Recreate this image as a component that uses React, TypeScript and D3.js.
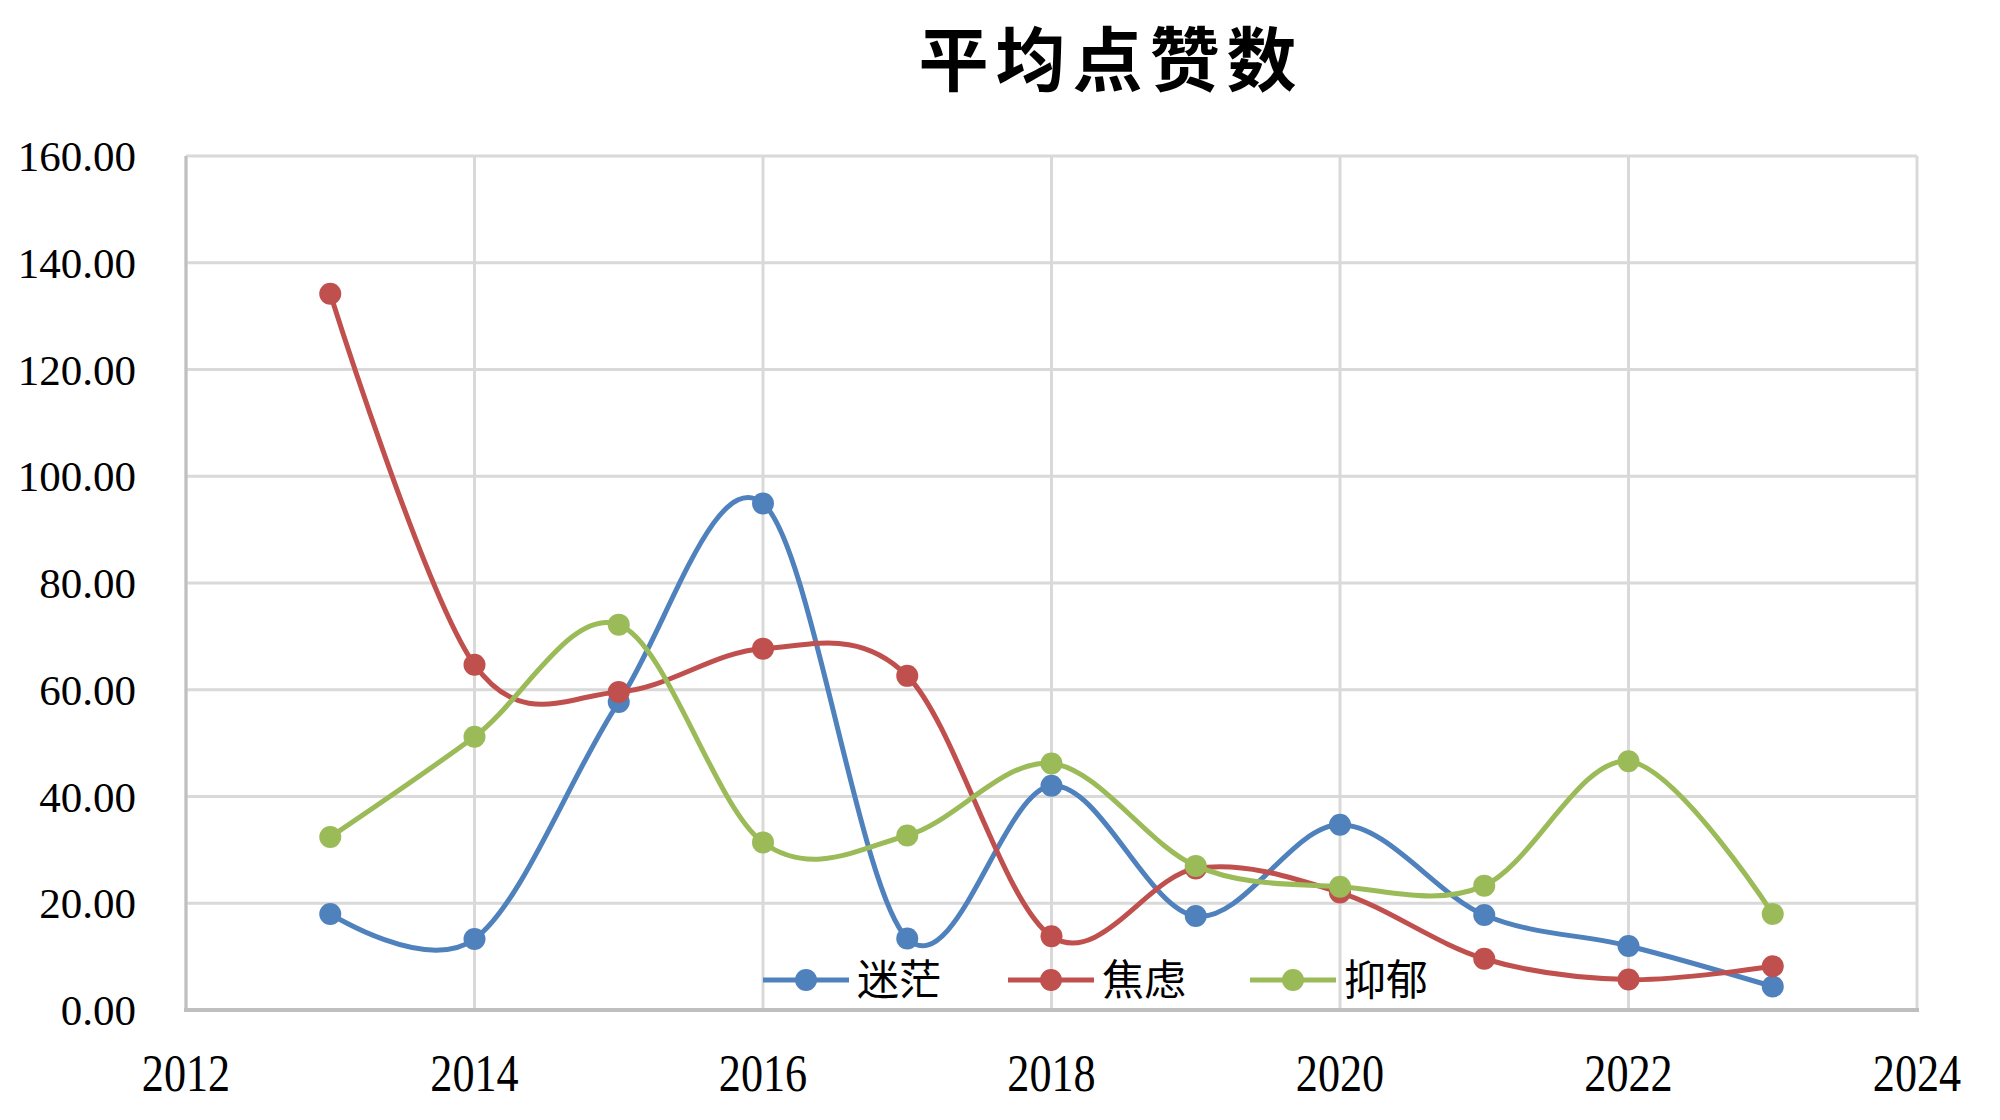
import { useEffect, useRef } from 'react';
import * as d3 from 'd3';

const years = [2013, 2014, 2015, 2016, 2017, 2018, 2019, 2020, 2021, 2022, 2023];
const mimang = [18.0, 13.3, 57.7, 94.9, 13.4, 42.0, 17.6, 34.7, 17.8, 12.0, 4.4];
const jiaolv = [134.2, 64.7, 59.6, 67.7, 62.6, 13.8, 26.5, 22.0, 9.6, 5.7, 8.2];
const yiyu = [32.4, 51.2, 72.2, 31.4, 32.7, 46.2, 27.0, 23.1, 23.3, 46.6, 18.0];
const seriesNames = ['迷茫', '焦虑', '抑郁'];
const seriesColors = ['#4F81BD', '#C0504D', '#9BBB59'];
const xTicks = [2012, 2014, 2016, 2018, 2020, 2022, 2024];
const yTicks = [0, 20, 40, 60, 80, 100, 120, 140, 160];

export default function App() {
  const ref = useRef<SVGSVGElement>(null);

  useEffect(() => {
    if (!ref.current) return;
    document.body.style.margin = '0';
    const W = 2000, H = 1120;
    const margin = { top: 156, right: 83, bottom: 110, left: 186 };
    const svg = d3.select(ref.current).attr('width', W).attr('height', H);
    svg.selectAll('*').remove();
    svg.append('rect').attr('width', W).attr('height', H).attr('fill', '#fff');

    const x = d3.scaleLinear().domain([2012, 2024]).range([margin.left, W - margin.right]);
    const y = d3.scaleLinear().domain([0, 160]).range([H - margin.bottom, margin.top]);

    // gridlines
    const grid = svg.append('g');
    yTicks.forEach(t => {
      grid.append('line').attr('x1', x(2012)).attr('x2', x(2024)).attr('y1', y(t)).attr('y2', y(t))
        .attr('stroke', '#D9D9D9').attr('stroke-width', 3);
    });
    xTicks.forEach(t => {
      grid.append('line').attr('x1', x(t)).attr('x2', x(t)).attr('y1', y(0)).attr('y2', y(160))
        .attr('stroke', '#D9D9D9').attr('stroke-width', 3);
    });
    // axes lines
    svg.append('line').attr('x1', x(2012)).attr('x2', x(2012)).attr('y1', y(0)).attr('y2', y(160))
      .attr('stroke', '#BFBFBF').attr('stroke-width', 3);
    svg.append('line').attr('x1', x(2012) - 2).attr('x2', x(2024) + 2).attr('y1', y(0)).attr('y2', y(0))
      .attr('stroke', '#BFBFBF').attr('stroke-width', 4);

    // tick labels
    yTicks.forEach(t => {
      svg.append('text').attr('x', 136).attr('y', y(t)).attr('dy', '0.35em').attr('text-anchor', 'end')
        .attr('font-family', '"Liberation Serif", serif').attr('font-size', 43).attr('fill', '#000')
        .text(t.toFixed(2));
    });
    xTicks.forEach(t => {
      svg.append('text').attr('transform', `translate(${x(t)},1091) scale(0.85,1)`)
        .attr('text-anchor', 'middle')
        .attr('font-family', '"Liberation Serif", serif').attr('font-size', 52).attr('fill', '#000')
        .text(String(t));
    });

    // title
    svg.append('text').attr('x', 1111).attr('y', 86).attr('text-anchor', 'middle')
      .attr('font-family', '"Noto Sans CJK SC", sans-serif').attr('font-weight', 'bold')
      .attr('font-size', 70).attr('letter-spacing', 7).attr('fill', '#000').text('平均点赞数');

    // series
    const allSeries = [mimang, jiaolv, yiyu];
    const line = d3.line<number>()
      .x((_, i) => x(years[i]))
      .y(d => y(d))
      .curve(d3.curveCardinal.tension(0));
    allSeries.forEach((vals, si) => {
      const g = svg.append('g');
      g.append('path').attr('d', line(vals)).attr('fill', 'none')
        .attr('stroke', seriesColors[si]).attr('stroke-width', 5).attr('stroke-linejoin', 'round');
      vals.forEach((v, i) => {
        g.append('circle').attr('cx', x(years[i])).attr('cy', y(v)).attr('r', 11)
          .attr('fill', seriesColors[si]);
      });
    });

    // legend
    const legendX = [763, 1008, 1250];
    const legendY = 980;
    seriesNames.forEach((name, i) => {
      const lx = legendX[i];
      svg.append('line').attr('x1', lx).attr('x2', lx + 86).attr('y1', legendY).attr('y2', legendY)
        .attr('stroke', seriesColors[i]).attr('stroke-width', 5);
      svg.append('circle').attr('cx', lx + 43).attr('cy', legendY).attr('r', 11).attr('fill', seriesColors[i]);
      svg.append('text').attr('x', lx + 94).attr('y', legendY).attr('dy', '0.36em')
        .attr('font-family', '"Noto Sans CJK SC", sans-serif').attr('font-size', 42).attr('fill', '#000')
        .text(name);
    });
  }, []);

  return <svg ref={ref} style={{ display: 'block' }} />;
}
